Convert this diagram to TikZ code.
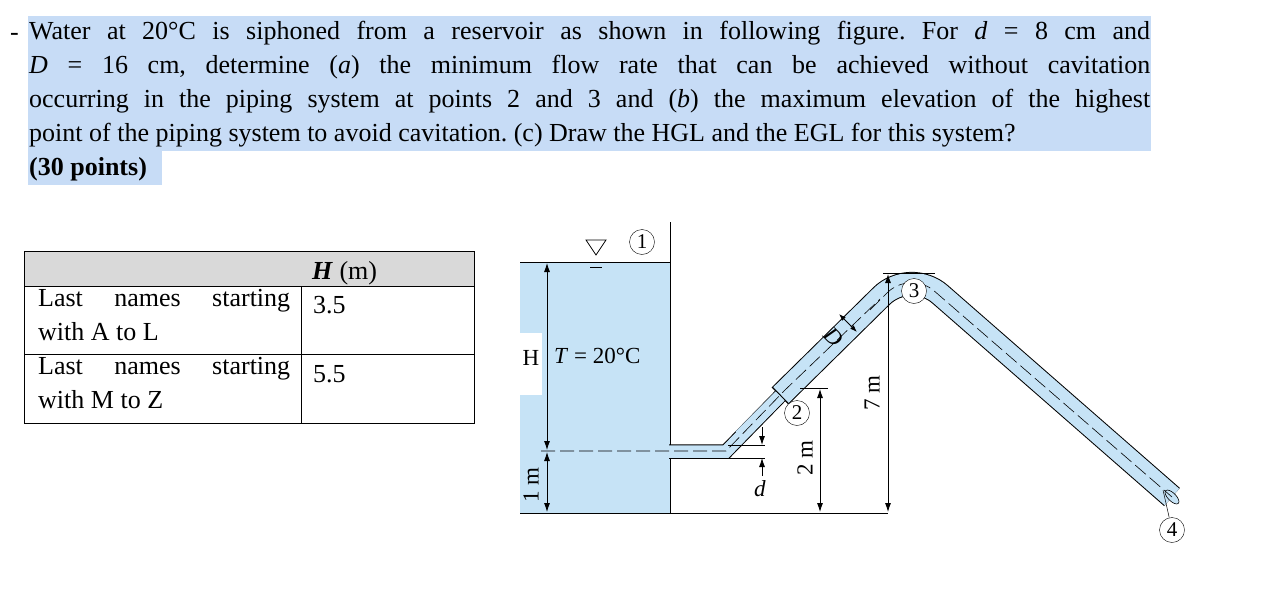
\documentclass[tikz,border=0pt]{standalone}
\usepackage{fontspec}
\setmainfont{Liberation Serif}
\usetikzlibrary{arrows.meta}
\definecolor{hl}{HTML}{C7DCF6}
\definecolor{water}{HTML}{C6E3F6}
\definecolor{hdr}{HTML}{D9D9D9}
\begin{document}
\frenchspacing
\begin{tikzpicture}[x=1pt,y=-1pt,
  txt/.style={inner sep=0pt,font=\fontsize{26}{34}\selectfont},
  tab/.style={inner sep=0pt,anchor=base west,font=\fontsize{26}{34}\selectfont},
  fig/.style={inner sep=0pt,font=\fontsize{23}{26}\selectfont},
  lab/.style={circle,draw,fill=white,inner sep=1pt,minimum size=25pt,font=\fontsize{21}{22}\selectfont},
  dim/.style={line width=0.8pt,-{Latex[length=9pt,width=6pt]}},
  dd/.style={line width=0.8pt,{Latex[length=9pt,width=6pt]}-{Latex[length=9pt,width=6pt]}},
  cl/.style={dash pattern=on 14pt off 5pt,line width=0.6pt}]
\useasboundingbox (0,0) rectangle (1266,589);
\fill[hl] (28,16) rectangle (1151,151);
\fill[hl] (28,151) rectangle (162,185);
\node[txt,anchor=base west] (dash) at (10,40) {-};
\node[txt,anchor=north west,text width=1121pt,align=justify] (q) at (29,15) {\strut Water at 20°C is siphoned from a reservoir as shown in following figure. For \textit{d} = 8 cm and\linebreak
\textit{D} = 16 cm, determine (\textit{a}) the minimum flow rate that can be achieved without cavitation\linebreak
occurring in the piping system at points 2 and 3 and (\textit{b}) the maximum elevation of the highest\linebreak
point of the piping system to avoid cavitation. (c) Draw the HGL and the EGL for this system?\par
\textbf{(30 points)}};
% table
\fill[hdr] (24,251) rectangle (474,286);
\draw[line width=0.8pt] (24,251) rectangle (474,423) (24,286) -- (474,286) (24,354) -- (474,354) (301,286) -- (301,423);
\node[tab] (h) at (312,279) {\textbf{\textit{H}} (m)};
\node[tab,text width=252pt,align=justify,anchor=north west] (r1) at (38,289) {Last names starting\linebreak with A to L};
\node[tab] (v1) at (313,313) {3.5};
\node[tab,text width=252pt,align=justify,anchor=north west] (r2) at (38,357) {Last names starting\linebreak with M to Z};
\node[tab] (v2) at (313,382) {5.5};
% reservoir
\fill[water] (520,262) rectangle (670,513);
\fill[white] (520,333) rectangle (542,395);
\draw[line width=0.8pt] (520,262) -- (670,262);
\draw[line width=0.8pt] (670,222) -- (670,445) (670,458) -- (670,513);
\draw[line width=0.8pt] (520,513) -- (888,513);
\node[fig] (Hl) at (531,358) {H};
\node[fig,anchor=west] (T) at (554,356) {\textit{T} = 20°C};
\draw[line width=0.8pt] (586,240) -- (606,240) -- (596,255) -- cycle;
\draw[line width=0.8pt] (590,267) -- (602,267);
\node[lab] (p1) at (642,242) {1};
% pipes
\draw[line width=14.5pt,black] (669,451.5) -- (726,451.5) -- (788,388);
\draw[line width=12.5pt,water] (669,451.5) -- (726,451.5) -- (788,388);
\draw[line width=24pt,black,rounded corners=40pt] (780,396) -- (910,268) -- (1172,497);
\draw[line width=22pt,water,rounded corners=40pt] (781,395) -- (910,268) -- (1172,497);
\draw[line width=12.5pt,water] (740,436) -- (780,396);
\fill[water,draw=black,line width=0.6pt] (1172,497) ellipse [x radius=4pt,y radius=9pt,rotate=45];
% centerlines
\draw[cl] (541,451) -- (726,451) -- (785,390) -- (880,299);
\draw[cl,rounded corners=32pt] (870,310) -- (910,270) -- (1172,497);
% labels on pipe
\node[lab] (p2) at (797,413) {2};
\node[lab] (p3) at (914,291) {3};
\node[lab] (p4) at (1172,530) {4};
\coordinate (e4) at (1163,490);
\draw[line width=0.5pt] (e4) -- (p4);
% H and 1 m dims
\draw[dd] (547,263) -- (547,450);
\draw[dd] (547,452) -- (547,512);
\node[fig,rotate=90] (m1) at (531,485) {1 m};
% d
\draw[line width=0.8pt] (728,445) -- (765,445) (728,458) -- (765,458);
\draw[dim] (762,427) -- (762,445);
\draw[dim] (762,476) -- (762,458);
\node[fig] (dl) at (760,489) {\textit{d}};
% 2 m
\draw[line width=0.8pt] (800,388) -- (828,388);
\draw[dd] (820,389) -- (820,512);
\node[fig,rotate=90] (m2) at (805,458) {2 m};
% 7 m
\draw[line width=0.8pt] (883,273) -- (935,273);
\draw[dd] (888,274) -- (888,512);
\node[fig,rotate=90] (m7) at (872,393) {7 m};
% D
\draw[line width=0.8pt,{Latex[length=7pt,width=5pt]}-{Latex[length=7pt,width=5pt]}] (839,314) -- (857,332);
\node[fig,rotate=-45] (Dl) at (834,337) {\textit{D}};
\end{tikzpicture}
\end{document}
